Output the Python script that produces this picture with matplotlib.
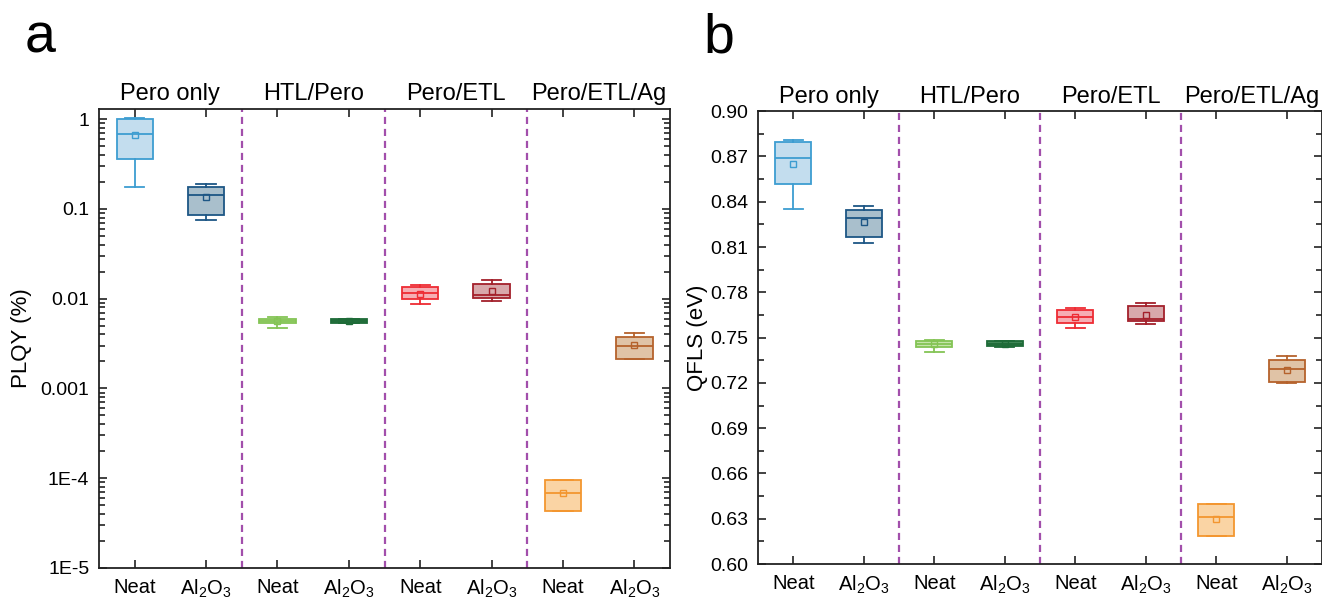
import numpy as np
import matplotlib
matplotlib.use("Agg")
import matplotlib.pyplot as plt
from matplotlib.ticker import FixedLocator, FixedFormatter, LogLocator, NullFormatter, MultipleLocator

plt.rcParams["font.family"] = ["Liberation Sans", "DejaVu Sans"]
plt.rcParams["mathtext.default"] = "regular"

GROUPS = ["Pero only", "HTL/Pero", "Pero/ETL", "Pero/ETL/Ag"]
XLABELS = ["Neat", r"Al$_2$O$_3$"] * 4

EDGE = ["#3d9dd1", "#1d5685", "#84c455", "#1e6b38",
        "#ee2b33", "#a3202b", "#f3962f", "#b5622c"]
FILL = ["#c3ddee", "#a9bfcc", "#c6e4ab", "#3f8656",
        "#f6aeb4", "#d8a8ab", "#fad4a4", "#e0c3a6"]

# PLQY (%) -- whislo, q1, med, mean, q3, whishi
PLQY_LO = [0.177, 0.075, 0.0047, 0.0053, 0.0087, 0.0093, 4.3e-5, 0.0021]
PLQY_Q1 = [0.36, 0.085, 0.0054, 0.0054, 0.0098, 0.0101, 4.3e-5, 0.00215]
PLQY_MED = [0.676, 0.142, 0.0057, 0.0057, 0.0115, 0.011, 6.9e-5, 0.0030]
PLQY_MEAN = [0.66, 0.135, 0.0057, 0.0057, 0.0114, 0.0121, 6.9e-5, 0.00303]
PLQY_Q3 = [0.99, 0.173, 0.0060, 0.0059, 0.0134, 0.0147, 9.6e-5, 0.00372]
PLQY_HI = [1.02, 0.188, 0.0063, 0.0060, 0.0141, 0.0160, 9.6e-5, 0.00412]

# QFLS (eV)
QFLS_LO = [0.8353, 0.8128, 0.7404, 0.7440, 0.7565, 0.7591, 0.6185, 0.7199]
QFLS_Q1 = [0.8517, 0.8164, 0.7439, 0.7442, 0.7598, 0.7607, 0.6185, 0.7205]
QFLS_MED = [0.8693, 0.8289, 0.7459, 0.7457, 0.7638, 0.7622, 0.6311, 0.7291]
QFLS_MEAN = [0.8651, 0.8263, 0.7459, 0.7457, 0.7638, 0.7649, 0.6298, 0.7285]
QFLS_Q3 = [0.8797, 0.8344, 0.7479, 0.7475, 0.7680, 0.7707, 0.6397, 0.7349]
QFLS_HI = [0.8808, 0.8369, 0.7483, 0.7480, 0.7695, 0.7727, 0.6397, 0.7376]

YT_PLQY = [1e-5, 1e-4, 1e-3, 1e-2, 1e-1, 1]
YT_PLQY_LBL = ["1E-5", "1E-4", "0.001", "0.01", "0.1", "1"]

DASH = "#a24fab"


def make_stats(lo, q1, med, mean, q3, hi):
    return [dict(whislo=a, q1=b, med=c, mean=d, q3=e, whishi=f, fliers=[])
            for a, b, c, d, e, f in zip(lo, q1, med, mean, q3, hi)]


def draw_panel(ax, stats):
    pos = np.arange(1, 9)
    for i, st in enumerate(stats):
        c = EDGE[i]
        ax.bxp([st], positions=[pos[i]], widths=0.51, showmeans=True,
               showfliers=False, patch_artist=True, capwidths=0.27,
               boxprops=dict(facecolor=FILL[i], edgecolor=c, linewidth=1.3),
               medianprops=dict(color=c, linewidth=1.3),
               whiskerprops=dict(color=c, linewidth=1.3),
               capprops=dict(color=c, linewidth=1.3),
               meanprops=dict(marker="s", markersize=4.5, markerfacecolor="none",
                              markeredgecolor=c, markeredgewidth=1.0))
    for xv in [2.5, 4.5, 6.5]:
        ax.axvline(xv, color=DASH, lw=1.6, ls=(0, (3.2, 2.2)), zorder=0)
    ax.set_xlim(0.5, 8.5)
    ax.set_xticks(pos)
    ax.set_xticklabels(XLABELS, fontsize=14.5)
    for k, g in enumerate(GROUPS):
        ax.text(1.5 + 2 * k, 1.008, g, transform=ax.get_xaxis_transform(),
                ha="center", va="bottom", fontsize=17)
    ax.tick_params(axis="both", which="both", direction="in",
                   top=True, right=True, width=1.2, color="#222222")
    ax.tick_params(axis="both", which="major", length=6, pad=7)
    ax.tick_params(axis="y", which="minor", length=4)
    ax.tick_params(axis="y", labelsize=14)
    for sp in ax.spines.values():
        sp.set_linewidth(1.3)
        sp.set_color("#222222")


fig = plt.figure(figsize=(13.22, 5.99), dpi=100)
ax1 = fig.add_axes([0.0749, 0.0518, 0.432, 0.766])
ax2 = fig.add_axes([0.5734, 0.0584, 0.4266, 0.756])

draw_panel(ax1, make_stats(PLQY_LO, PLQY_Q1, PLQY_MED, PLQY_MEAN, PLQY_Q3, PLQY_HI))
ax1.set_yscale("log")
ax1.set_ylim(1e-5, 1.29)
ax1.yaxis.set_major_locator(FixedLocator(YT_PLQY))
ax1.yaxis.set_major_formatter(FixedFormatter(YT_PLQY_LBL))
ax1.yaxis.set_minor_locator(LogLocator(base=10, subs=np.arange(2, 10)))
ax1.yaxis.set_minor_formatter(NullFormatter())
ax1.set_ylabel("PLQY (%)", fontsize=16)
ax1.yaxis.set_label_coords(-0.118, 0.5)

draw_panel(ax2, make_stats(QFLS_LO, QFLS_Q1, QFLS_MED, QFLS_MEAN, QFLS_Q3, QFLS_HI))
ax2.set_ylim(0.60, 0.90)
ax2.yaxis.set_major_locator(MultipleLocator(0.03))
ax2.yaxis.set_minor_locator(MultipleLocator(0.015))
ax2.yaxis.set_major_formatter(matplotlib.ticker.FormatStrFormatter("%.2f"))
ax2.set_ylabel("QFLS (eV)", fontsize=16)
ax2.yaxis.set_label_coords(-0.088, 0.5)

fig.text(0.019, 0.913, "a", fontsize=40, va="baseline", ha="left")
fig.text(0.532, 0.913, "b", fontsize=40, va="baseline", ha="left")

fig.savefig("out.png", dpi=100)
